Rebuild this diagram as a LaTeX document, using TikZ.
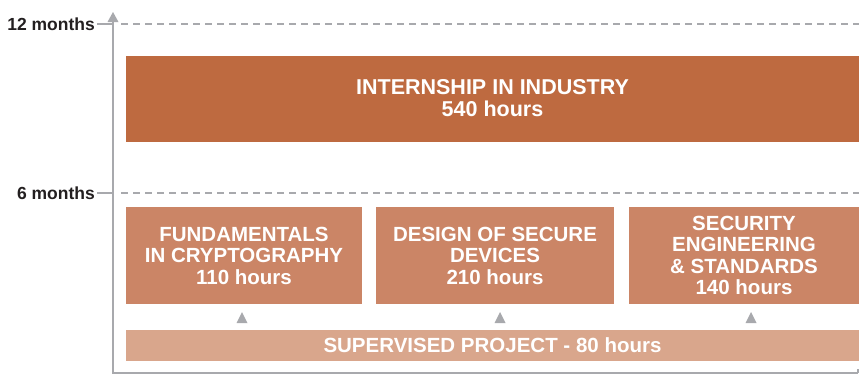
\documentclass[tikz,border=0pt]{standalone}
\usepackage{fontspec}
\setmainfont{Liberation Sans}
\usetikzlibrary{arrows.meta}
\definecolor{axisgray}{HTML}{A8A9AD}
\definecolor{dashgray}{HTML}{A8A9AD}
\definecolor{dark}{HTML}{BE6A40}
\definecolor{mid}{HTML}{CB8566}
\definecolor{light}{HTML}{D9A68C}
\definecolor{labelc}{HTML}{231F20}
\begin{document}
\begin{tikzpicture}[x=1pt,y=-1pt,
  blockbox/.style={fill=#1, draw=none, inner sep=0pt, text=white,
    font=\bfseries\fontsize{20.5}{21.5}\selectfont, align=center},
  ticklabel/.style={anchor=east, inner sep=0pt, text=labelc,
    font=\bfseries\fontsize{17.5}{19}\selectfont},
  guide/.style={dashgray, line width=1.6pt, dash pattern=on 7pt off 5pt},
  axisline/.style={axisgray, line width=2.4pt}
]
\useasboundingbox (0,0) rectangle (859,376);
% axis
\coordinate (top) at (113,12);
\coordinate (corner) at (113,373);
\coordinate (endr) at (858,373);
\draw[axisline] (endr) -- (corner) -- (113,20);
\fill[axisgray] (top) -- (107.5,22) -- (118.5,22) -- cycle;
\draw[axisgray, line width=1.6pt] (858,373) -- (858,369);
% ticks
\node[ticklabel] (l12) at (95,24) {12 months};
\node[ticklabel] (l6) at (95,193) {6 months};
\coordinate (g12) at (859,24);
\coordinate (g6) at (859,193);
\draw[axisgray, line width=1.6pt] (l12.east) ++(2,0) -- (113,24);
\draw[axisgray, line width=1.6pt] (l6.east) ++(2,0) -- (113,193);
\draw[guide] (121,24) -- (g12);
\draw[guide] (121,193) -- (g6);
% blocks
\node[blockbox=dark, minimum width=733pt, minimum height=86pt,
  font=\bfseries\fontsize{21.5}{22}\selectfont] (intern) at (492.5,98.5) {INTERNSHIP IN INDUSTRY\\540 hours};
\node[blockbox=mid, minimum width=236pt, minimum height=97pt] (crypto) at (244,255.5) {FUNDAMENTALS\\IN CRYPTOGRAPHY\\110 hours};
\node[blockbox=mid, minimum width=238pt, minimum height=97pt] (devices) at (495,255.5) {DESIGN OF SECURE\\DEVICES\\210 hours};
\node[blockbox=mid, minimum width=230pt, minimum height=97pt] (secEng) at (744,255.5) {SECURITY\\ENGINEERING\\\&\ STANDARDS\\140 hours};
\node[blockbox=light, minimum width=733pt, minimum height=31pt] (project) at (492.5,345.5) {SUPERVISED PROJECT - 80 hours};
% triangles
\fill[axisgray] (242,312) -- (236.5,323) -- (247.5,323) -- cycle;
\fill[axisgray] (500,312) -- (494.5,323) -- (505.5,323) -- cycle;
\fill[axisgray] (751,312) -- (745.5,323) -- (756.5,323) -- cycle;
\end{tikzpicture}
\end{document}
